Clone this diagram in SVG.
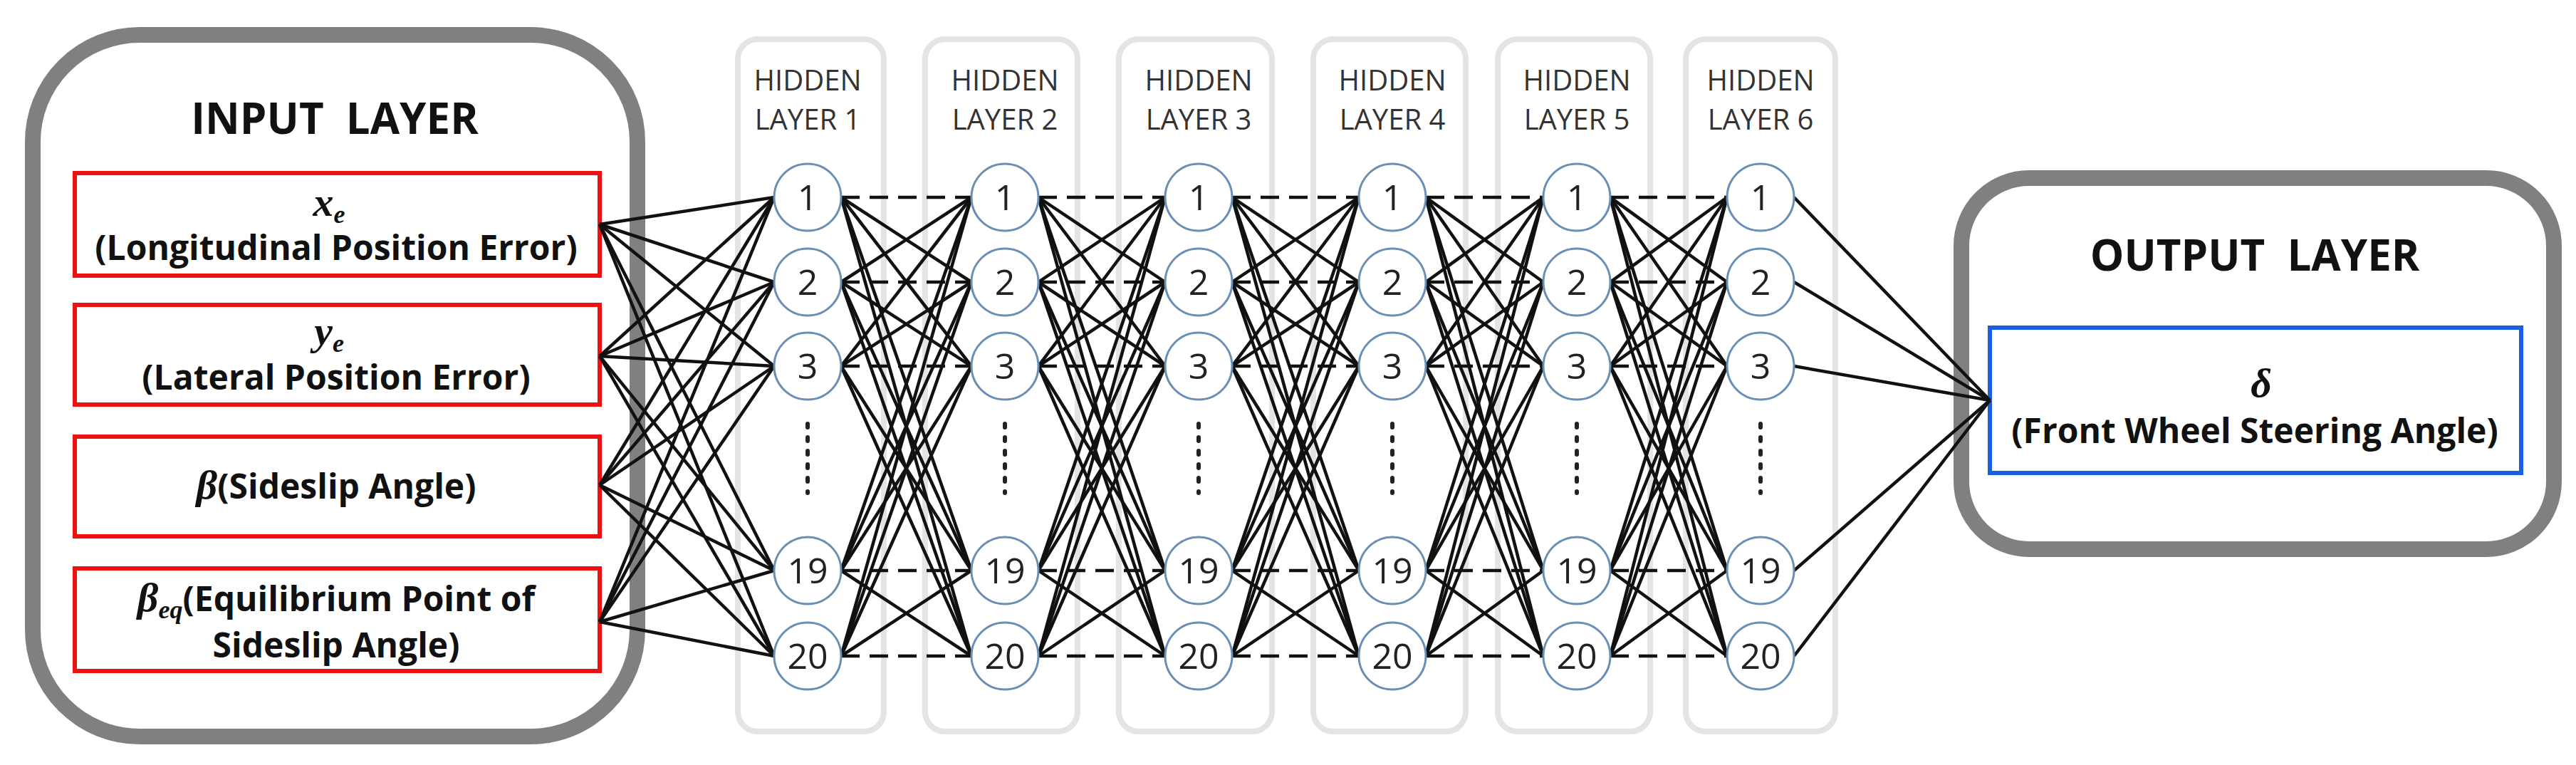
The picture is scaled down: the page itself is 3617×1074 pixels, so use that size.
<svg xmlns="http://www.w3.org/2000/svg" xmlns:xlink="http://www.w3.org/1999/xlink" width="3617" height="1074" viewBox="0 0 3617 1074">
<style>
.big{fill:#fff;stroke:#808080;stroke-width:22}
.col{fill:#fff;stroke:#e4e4e4;stroke-width:8}
.red{fill:#fff;stroke:#ee1111;stroke-width:6}
.blue{fill:#fff;stroke:#1a5fe0;stroke-width:6}
.title{font-family:"Open Sans","Noto Sans",sans-serif;font-weight:bold;font-size:60px;fill:#111;text-anchor:middle}
.lbl{font-family:"Open Sans","Noto Sans",sans-serif;font-weight:bold;font-size:48px;fill:#111;text-anchor:middle}
.math{font-family:"Liberation Serif",serif;font-style:italic;font-weight:bold;font-size:58px;fill:#111}
.hd{font-family:"Open Sans","Noto Sans",sans-serif;font-size:40px;fill:#333;text-anchor:middle}
.node circle{fill:#fff;stroke:#6a8fb5;stroke-width:3}
.node text{font-family:"Open Sans","Noto Sans",sans-serif;font-size:50px;fill:#222;text-anchor:middle}
.ln{stroke:#111;stroke-width:4.5;fill:none;vector-effect:non-scaling-stroke}
.dash{stroke-dasharray:26 14}
.dots{stroke:#222;stroke-width:6;stroke-dasharray:5 14;stroke-linecap:round}
</style>
<defs>
<g id="mesh">
<line class="ln dash" x1="0" y1="277" x2="178" y2="277"/><line class="ln" x1="0" y1="277" x2="178" y2="396"/><line class="ln" x1="0" y1="277" x2="178" y2="514"/><line class="ln" x1="0" y1="277" x2="178" y2="801"/><line class="ln" x1="0" y1="277" x2="178" y2="921"/>
<line class="ln" x1="0" y1="396" x2="178" y2="277"/><line class="ln dash" x1="0" y1="396" x2="178" y2="396"/><line class="ln" x1="0" y1="396" x2="178" y2="514"/><line class="ln" x1="0" y1="396" x2="178" y2="801"/><line class="ln" x1="0" y1="396" x2="178" y2="921"/>
<line class="ln" x1="0" y1="514" x2="178" y2="277"/><line class="ln" x1="0" y1="514" x2="178" y2="396"/><line class="ln dash" x1="0" y1="514" x2="178" y2="514"/><line class="ln" x1="0" y1="514" x2="178" y2="801"/><line class="ln" x1="0" y1="514" x2="178" y2="921"/>
<line class="ln" x1="0" y1="801" x2="178" y2="277"/><line class="ln" x1="0" y1="801" x2="178" y2="396"/><line class="ln" x1="0" y1="801" x2="178" y2="514"/><line class="ln dash" x1="0" y1="801" x2="178" y2="801"/><line class="ln" x1="0" y1="801" x2="178" y2="921"/>
<line class="ln" x1="0" y1="921" x2="178" y2="277"/><line class="ln" x1="0" y1="921" x2="178" y2="396"/><line class="ln" x1="0" y1="921" x2="178" y2="514"/><line class="ln" x1="0" y1="921" x2="178" y2="801"/><line class="ln dash" x1="0" y1="921" x2="178" y2="921"/>
</g>
</defs>
<g id="input-layer">
<rect class="big" x="46" y="49" width="849" height="985" rx="150"/>
<text class="title" x="470" y="188" xml:space="preserve">INPUT  LAYER</text>
<rect class="red" x="105" y="243" width="737" height="144"/>
<text class="math" x="462" y="303" text-anchor="middle">x<tspan font-size="36" dy="10">e</tspan></text>
<text class="lbl" x="472" y="365">(Longitudinal Position Error)</text>
<rect class="red" x="105" y="428" width="737" height="140"/>
<text class="math" x="462" y="484" text-anchor="middle">y<tspan font-size="36" dy="10">e</tspan></text>
<text class="lbl" x="472" y="547">(Lateral Position Error)</text>
<rect class="red" x="105" y="613" width="737" height="140"/>
<text class="lbl" x="472" y="700"><tspan class="math">β</tspan>(Sideslip Angle)</text>
<rect class="red" x="105" y="798" width="737" height="144"/>
<text class="lbl" x="472" y="858"><tspan class="math">β<tspan font-size="36" dy="10">eq</tspan></tspan><tspan dy="-10">(Equilibrium Point of</tspan></text>
<text class="lbl" x="472" y="923">Sideslip Angle)</text>
</g>
<g id="hidden-columns">
<rect class="col" x="1036" y="55" width="205" height="972" rx="28"/>
<rect class="col" x="1299" y="55" width="214" height="972" rx="28"/>
<rect class="col" x="1571" y="55" width="215" height="972" rx="28"/>
<rect class="col" x="1844" y="55" width="214" height="972" rx="28"/>
<rect class="col" x="2103" y="55" width="214" height="972" rx="28"/>
<rect class="col" x="2367" y="55" width="210" height="972" rx="28"/>
<text class="hd" x="1134" y="127">HIDDEN</text><text class="hd" x="1134" y="182">LAYER 1</text>
<text class="hd" x="1411" y="127">HIDDEN</text><text class="hd" x="1411" y="182">LAYER 2</text>
<text class="hd" x="1683" y="127">HIDDEN</text><text class="hd" x="1683" y="182">LAYER 3</text>
<text class="hd" x="1955" y="127">HIDDEN</text><text class="hd" x="1955" y="182">LAYER 4</text>
<text class="hd" x="2214" y="127">HIDDEN</text><text class="hd" x="2214" y="182">LAYER 5</text>
<text class="hd" x="2472" y="127">HIDDEN</text><text class="hd" x="2472" y="182">LAYER 6</text>
</g>
<g id="output-layer">
<rect class="big" x="2754" y="250" width="832" height="521" rx="95"/>
<text class="title" x="3166" y="380" xml:space="preserve">OUTPUT  LAYER</text>
<rect class="blue" x="2794" y="460" width="746" height="204"/>
<text class="math" x="3175" y="557" text-anchor="middle">δ</text>
<text class="lbl" x="3166" y="622">(Front Wheel Steering Angle)</text>
</g>
<g id="connectors">
<line class="ln" x1="842" y1="315" x2="1087" y2="277"/><line class="ln" x1="842" y1="315" x2="1087" y2="396"/><line class="ln" x1="842" y1="315" x2="1087" y2="514"/><line class="ln" x1="842" y1="315" x2="1087" y2="801"/><line class="ln" x1="842" y1="315" x2="1087" y2="921"/>
<line class="ln" x1="842" y1="500" x2="1087" y2="277"/><line class="ln" x1="842" y1="500" x2="1087" y2="396"/><line class="ln" x1="842" y1="500" x2="1087" y2="514"/><line class="ln" x1="842" y1="500" x2="1087" y2="801"/><line class="ln" x1="842" y1="500" x2="1087" y2="921"/>
<line class="ln" x1="842" y1="681" x2="1087" y2="277"/><line class="ln" x1="842" y1="681" x2="1087" y2="396"/><line class="ln" x1="842" y1="681" x2="1087" y2="514"/><line class="ln" x1="842" y1="681" x2="1087" y2="801"/><line class="ln" x1="842" y1="681" x2="1087" y2="921"/>
<line class="ln" x1="842" y1="873" x2="1087" y2="277"/><line class="ln" x1="842" y1="873" x2="1087" y2="396"/><line class="ln" x1="842" y1="873" x2="1087" y2="514"/><line class="ln" x1="842" y1="873" x2="1087" y2="801"/><line class="ln" x1="842" y1="873" x2="1087" y2="921"/>
<use xlink:href="#mesh" href="#mesh" transform="translate(1181,0) scale(1.028,1)"/>
<use xlink:href="#mesh" href="#mesh" transform="translate(1458,0)"/>
<use xlink:href="#mesh" href="#mesh" transform="translate(1730,0)"/>
<use xlink:href="#mesh" href="#mesh" transform="translate(2002,0) scale(0.927,1)"/>
<use xlink:href="#mesh" href="#mesh" transform="translate(2261,0) scale(0.921,1)"/>
<line class="ln" x1="2519" y1="277" x2="2794" y2="562"/><line class="ln" x1="2519" y1="396" x2="2794" y2="562"/><line class="ln" x1="2519" y1="514" x2="2794" y2="562"/><line class="ln" x1="2519" y1="801" x2="2794" y2="562"/><line class="ln" x1="2519" y1="921" x2="2794" y2="562"/>
</g>
<g id="h1" class="node"><circle cx="1134" cy="277" r="47"/><text x="1134" y="295">1</text><circle cx="1134" cy="396" r="47"/><text x="1134" y="414">2</text><circle cx="1134" cy="514" r="47"/><text x="1134" y="532">3</text><line class="dots" x1="1134" y1="595" x2="1134" y2="692"/><circle cx="1134" cy="801" r="47"/><text x="1134" y="819">19</text><circle cx="1134" cy="921" r="47"/><text x="1134" y="939">20</text></g>
<g id="h2" class="node"><circle cx="1411" cy="277" r="47"/><text x="1411" y="295">1</text><circle cx="1411" cy="396" r="47"/><text x="1411" y="414">2</text><circle cx="1411" cy="514" r="47"/><text x="1411" y="532">3</text><line class="dots" x1="1411" y1="595" x2="1411" y2="692"/><circle cx="1411" cy="801" r="47"/><text x="1411" y="819">19</text><circle cx="1411" cy="921" r="47"/><text x="1411" y="939">20</text></g>
<g id="h3" class="node"><circle cx="1683" cy="277" r="47"/><text x="1683" y="295">1</text><circle cx="1683" cy="396" r="47"/><text x="1683" y="414">2</text><circle cx="1683" cy="514" r="47"/><text x="1683" y="532">3</text><line class="dots" x1="1683" y1="595" x2="1683" y2="692"/><circle cx="1683" cy="801" r="47"/><text x="1683" y="819">19</text><circle cx="1683" cy="921" r="47"/><text x="1683" y="939">20</text></g>
<g id="h4" class="node"><circle cx="1955" cy="277" r="47"/><text x="1955" y="295">1</text><circle cx="1955" cy="396" r="47"/><text x="1955" y="414">2</text><circle cx="1955" cy="514" r="47"/><text x="1955" y="532">3</text><line class="dots" x1="1955" y1="595" x2="1955" y2="692"/><circle cx="1955" cy="801" r="47"/><text x="1955" y="819">19</text><circle cx="1955" cy="921" r="47"/><text x="1955" y="939">20</text></g>
<g id="h5" class="node"><circle cx="2214" cy="277" r="47"/><text x="2214" y="295">1</text><circle cx="2214" cy="396" r="47"/><text x="2214" y="414">2</text><circle cx="2214" cy="514" r="47"/><text x="2214" y="532">3</text><line class="dots" x1="2214" y1="595" x2="2214" y2="692"/><circle cx="2214" cy="801" r="47"/><text x="2214" y="819">19</text><circle cx="2214" cy="921" r="47"/><text x="2214" y="939">20</text></g>
<g id="h6" class="node"><circle cx="2472" cy="277" r="47"/><text x="2472" y="295">1</text><circle cx="2472" cy="396" r="47"/><text x="2472" y="414">2</text><circle cx="2472" cy="514" r="47"/><text x="2472" y="532">3</text><line class="dots" x1="2472" y1="595" x2="2472" y2="692"/><circle cx="2472" cy="801" r="47"/><text x="2472" y="819">19</text><circle cx="2472" cy="921" r="47"/><text x="2472" y="939">20</text></g>
</svg>
